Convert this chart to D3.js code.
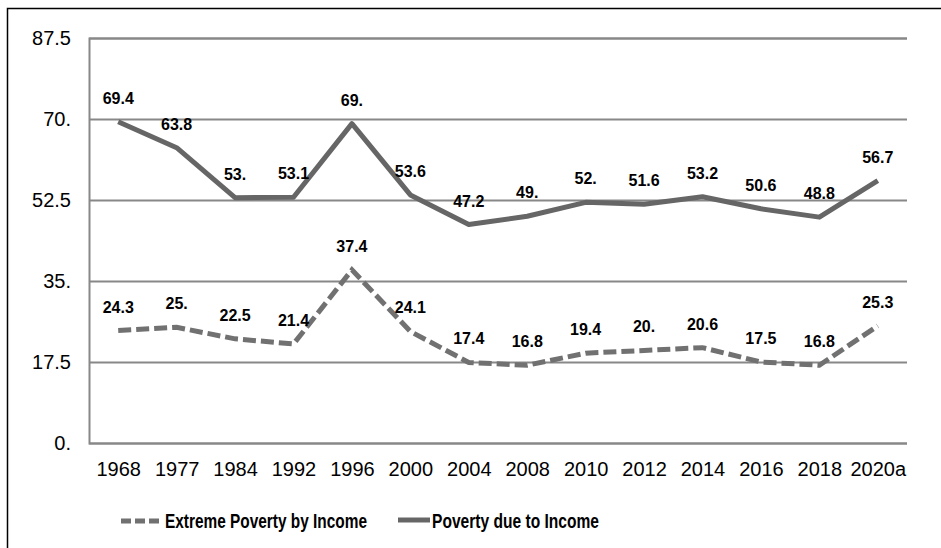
<!DOCTYPE html>
<html><head><meta charset="utf-8">
<script src="https://cdn.jsdelivr.net/npm/d3@7"></script>
<style>body{margin:0;background:#fff}svg{display:block}</style>
</head><body>
<svg id="c" width="941" height="548"></svg>
<script>
const categories = ["1968","1977","1984","1992","1996","2000","2004","2008","2010","2012","2014","2016","2018","2020a"];
const extremePoverty = [24.3,25.0,22.5,21.4,37.4,24.1,17.4,16.8,19.4,20.0,20.6,17.5,16.8,25.3];
const poverty = [69.4,63.8,53.0,53.1,69.0,53.6,47.2,49.0,52.0,51.6,53.2,50.6,48.8,56.7];
const yTicks = [0,17.5,35,52.5,70,87.5];
const seriesNames = ["Extreme Poverty by Income","Poverty due to Income"];

const svg = d3.select("#c");
const pLeft = 89, pRight = 907, pTop = 38, pBottom = 443;
const x = d3.scalePoint().domain(categories).range([pLeft, pRight]).padding(0.5);
const y = d3.scaleLinear().domain([0, 87.5]).range([pBottom, pTop]);
const fmt = v => Number.isInteger(v) ? v + "." : String(v);
const FONT = "Liberation Sans, Arial, sans-serif";

// outer border
svg.append("rect").attr("x",7.5).attr("y",8.5).attr("width",940).attr("height",545)
  .attr("fill","none").attr("stroke","#000").attr("stroke-width",1.5);

// gridlines
const yAxis = d3.axisLeft(y).tickValues(yTicks).tickFormat(fmt).tickSize(-(pRight-pLeft)).tickPadding(18);
const gy = svg.append("g").attr("transform",`translate(${pLeft},0)`).call(yAxis);
gy.select(".domain").attr("stroke","#888").attr("stroke-width",2);
gy.selectAll(".tick line").attr("stroke","#888").attr("stroke-width",2);
gy.selectAll(".tick text").attr("font-family",FONT).attr("font-size",20).attr("fill","#000");

const xAxis = d3.axisBottom(x).tickSize(0).tickPadding(19);
const gx = svg.append("g").attr("transform",`translate(0,${pBottom})`).call(xAxis);
gx.select(".domain").remove();
gx.selectAll(".tick text").attr("font-family",FONT).attr("font-size",20).attr("fill","#000");

const line = d3.line().x((d,i)=>x(categories[i])).y(d=>y(d));
svg.append("path").datum(poverty).attr("d",line).attr("fill","none")
  .attr("stroke","#666").attr("stroke-width",5).attr("stroke-linejoin","round");
svg.append("path").datum(extremePoverty).attr("d",line).attr("fill","none")
  .attr("stroke","#717171").attr("stroke-width",5).attr("stroke-dasharray","13,5");

function labels(data){
  svg.append("g").selectAll("text").data(data).join("text")
    .attr("x",(d,i)=>x(categories[i])).attr("y",d=>y(d)-18)
    .attr("text-anchor","middle")
    .attr("font-family",FONT).attr("font-weight","bold")
    .attr("font-size",16).attr("fill","#000").text(fmt);
}
labels(poverty); labels(extremePoverty);

// legend
const lg = svg.append("g").attr("font-family",FONT)
  .attr("font-weight","bold").attr("font-size",20).attr("fill","#000");
lg.append("line").attr("x1",121).attr("x2",160).attr("y1",521).attr("y2",521)
  .attr("stroke","#717171").attr("stroke-width",5).attr("stroke-dasharray","10,4");
lg.append("text").attr("x",165).attr("y",528).attr("textLength",202).attr("lengthAdjust","spacingAndGlyphs").text(seriesNames[0]);
lg.append("line").attr("x1",398).attr("x2",430).attr("y1",520).attr("y2",520)
  .attr("stroke","#666").attr("stroke-width",5);
lg.append("text").attr("x",432).attr("y",528).attr("textLength",167).attr("lengthAdjust","spacingAndGlyphs").text(seriesNames[1]);
</script>
</body></html>
